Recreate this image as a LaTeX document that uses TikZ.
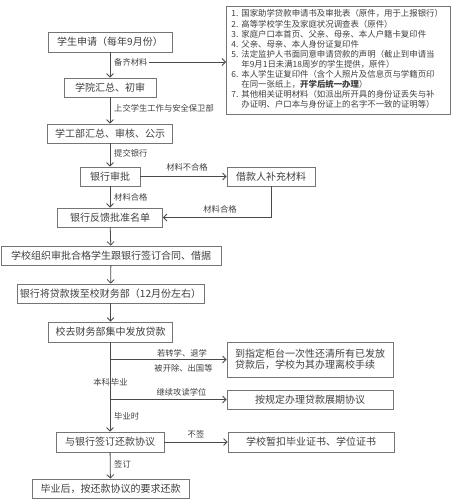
\documentclass[tikz,border=0pt]{standalone}
\usepackage{fontspec}
\setmainfont{Noto Sans CJK SC}
\usetikzlibrary{arrows.meta,positioning}
\definecolor{boxc}{HTML}{757575}
\definecolor{linec}{HTML}{4A4A4A}
\definecolor{txtc}{HTML}{404040}
\tikzset{
  mybox/.style={draw=boxc,line width=0.8pt,fill=white,minimum height=19pt,inner sep=1pt,
    font=\fontsize{10}{12}\selectfont,text=txtc},
  lbl/.style={font=\fontsize{8.3}{10}\selectfont,text=txtc,inner sep=1pt},
  arr/.style={draw=linec,line width=0.8pt,-{Straight Barb[length=3.5pt,width=7pt]}},
  ln/.style={draw=linec,line width=0.8pt}
}
\begin{document}
\begin{tikzpicture}[x=1pt,y=-1pt]
\useasboundingbox[fill=white] (0,0) rectangle (456,500);
% main column
\node[mybox,minimum width=124pt,minimum height=20pt] (A) at (110,42) {学生申请（每年9月份）};
\node[mybox,minimum width=92pt] (B) at (110,87.5) {学院汇总、初审};
\node[mybox,minimum width=125pt] (C) at (110,133.5) {学工部汇总、审核、公示};
\node[mybox,minimum width=60pt] (D) at (110,176.5) {银行审批};
\node[mybox,minimum width=88pt] (E) at (271,176.5) {借款人补充材料};
\node[mybox,minimum width=105pt] (F) at (110,217.5) {银行反馈批准名单};
\node[mybox,minimum width=220pt] (G) at (111,255.5) {学校组织审批合格学生跟银行签订合同、借据};
\node[mybox,minimum width=187pt] (H) at (110.5,293.5) {银行将贷款拨至校财务部（12月份左右）};
\node[mybox,minimum width=124pt,minimum height=20pt] (I) at (110.5,332) {校去财务部集中发放贷款};
\node[mybox,minimum width=166pt,minimum height=35pt,align=left] (J) at (310,359.5) {到指定柜台一次性还清所有已发放\\[-1.5pt]贷款后，学校为其办理离校手续};
\node[mybox,minimum width=166pt] (K) at (310,399.5) {按规定办理贷款展期协议};
\node[mybox,minimum width=108pt,minimum height=20pt] (L) at (110,442) {与银行签订还款协议};
\node[mybox,minimum width=166pt,minimum height=20pt] (M) at (311,442) {学校暂扣毕业证书、学位证书};
\node[mybox,minimum width=157pt] (N) at (110.5,488.5) {毕业后，按还款协议的要求还款};
% materials list
\node[draw=boxc,line width=0.8pt,minimum width=224pt,minimum height=104pt,text width=214pt,
  inner xsep=5pt,align=left,text=txtc,anchor=north west] (list) at (226,6) {%
\fontsize{8.4}{9.7}\selectfont
\begin{tabular}{@{}l@{\hspace{3pt}}l@{}}
1. & 国家助学贷款申请书及审批表（原件，用于上报银行）\\
2. & 高等学校学生及家庭状况调查表（原件）\\
3. & 家庭户口本首页、父亲、母亲、本人户籍卡复印件\\
4. & 父亲、母亲、本人身份证复印件\\
5. & 法定监护人书面同意申请贷款的声明（截止到申请当\\
   & 年9月1日未满18周岁的学生提供，原件）\\
6. & 本人学生证复印件（含个人照片及信息页与学籍页印\\
   & 在同一张纸上，\textbf{开学后统一办理}）\\
7. & 其他相关证明材料（如派出所开具的身份证丢失与补\\
   & 办证明、户口本与身份证上的名字不一致的证明等）
\end{tabular}};
% connectors
\draw[arr] (A) -- (B);
\node[lbl,anchor=west] (l1) at (113,62) {备齐材料};
\draw[arr] (l1.east) -- (list.west |- l1.east);
\draw[arr] (B) -- (C);
\node[lbl,anchor=west] (l2) at (113,108) {上交学生工作与安全保卫部};
\draw[arr] (C) -- (D);
\node[lbl,anchor=west] (l3) at (113,153) {提交银行};
\draw[arr] (D) -- (E);
\node[lbl] (l4) at (187,167) {材料不合格};
\draw[arr] (D) -- (F);
\node[lbl,anchor=west] (l5) at (113,197) {材料合格};
\draw[arr] (E.south) |- (F.east);
\node[lbl] (l6) at (220,209) {材料合格};
\draw[arr] (F) -- (G);
\draw[arr] (G) -- (H);
\draw[arr] (H.south -| I.north) -- (I.north);
\draw[arr] (I.south -| L.north) -- (L.north);
\coordinate (b1) at (110,359.5);
\coordinate (b2) at (110,399.5);
\draw[arr] (b1) -- (J.west);
\draw[arr] (b2) -- (K.west);
\node[lbl] (l7) at (182,353) {若转学、退学};
\node[lbl] (l8) at (183.5,368) {被开除、出国等};
\node[lbl] (l9) at (110.5,382) {本科\hspace{1pt}毕业};
\node[lbl] (l10) at (181.5,392) {继续攻读学位};
\node[lbl,anchor=west] (l11) at (113,416) {毕业时};
\draw[arr] (L) -- (M);
\node[lbl] (l12) at (196,434) {不签};
\draw[arr] (L) -- (N);
\node[lbl,anchor=west] (l13) at (113,464) {签订};
\end{tikzpicture}
\end{document}
